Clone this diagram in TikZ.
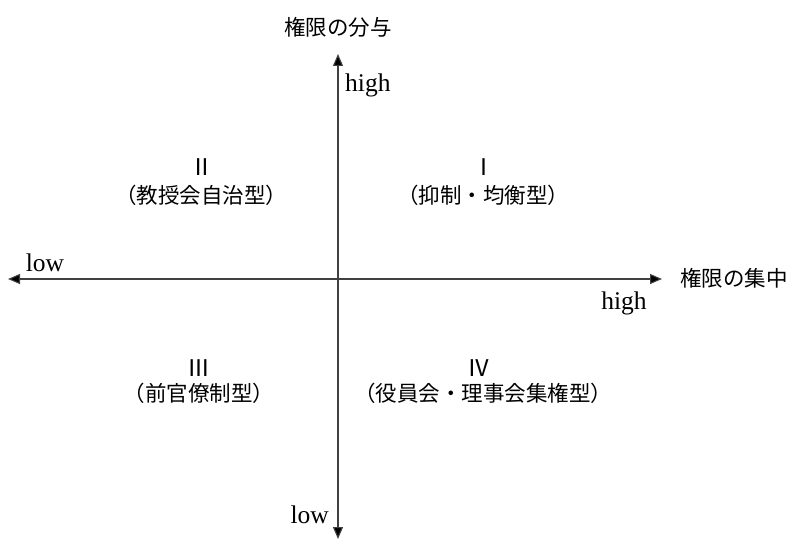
\documentclass[tikz,border=0pt]{standalone}
\usepackage{fontspec}
\setmainfont{Liberation Serif}
\newfontfamily\jp{Noto Sans CJK JP}
\usetikzlibrary{arrows.meta}
\tikzset{
  axis/.style={line width=1.1pt, draw=black!75, {Triangle[length=12pt,width=10pt,fill=black]}-{Triangle[length=12pt,width=10pt,fill=black]}},
  jlabel/.style={font=\jp\fontsize{21.5}{24}\selectfont, inner sep=0pt, align=center},
  numlabel/.style={font=\jp\fontsize{23}{26}\selectfont, inner sep=0pt},
  elabel/.style={font=\fontsize{25.5}{28}\selectfont, inner sep=0pt},
}
\begin{document}
\begin{tikzpicture}[x=1pt,y=-1pt]
\useasboundingbox (0,0) rectangle (793,540);
\coordinate (top) at (338,54);
\coordinate (bot) at (338,539);
\coordinate (left) at (8,279);
\coordinate (right) at (662,279);
\draw[axis] (bot) -- (top);
\draw[axis] (left) -- (right);

\node[jlabel] (ylab) at (338,27) {権限の分与};
\node[jlabel, anchor=west] (xlab) at (680,278) {権限の集中};
\node[elabel, anchor=west] (yhigh) at (345,85) {high};
\node[elabel, anchor=east] (ylow) at (329,515) {low};
\node[elabel] (xlow) at (45,263) {low};
\node[elabel] (xhigh) at (624,303) {high};

\node[numlabel] (q1n) at (484,167) {Ⅰ};
\node[jlabel] (q1) at (483,195) {（抑制・均衡型）};
\node[numlabel] (q2n) at (202,167) {Ⅱ};
\node[jlabel] (q2) at (201,195) {（教授会自治型）};
\node[numlabel] (q3n) at (199,368) {Ⅲ};
\node[jlabel] (q3) at (199,393) {（前官僚制型）};
\node[numlabel] (q4n) at (479,368) {Ⅳ};
\node[jlabel] (q4) at (483,393) {（役員会・理事会集権型）};
\end{tikzpicture}
\end{document}
